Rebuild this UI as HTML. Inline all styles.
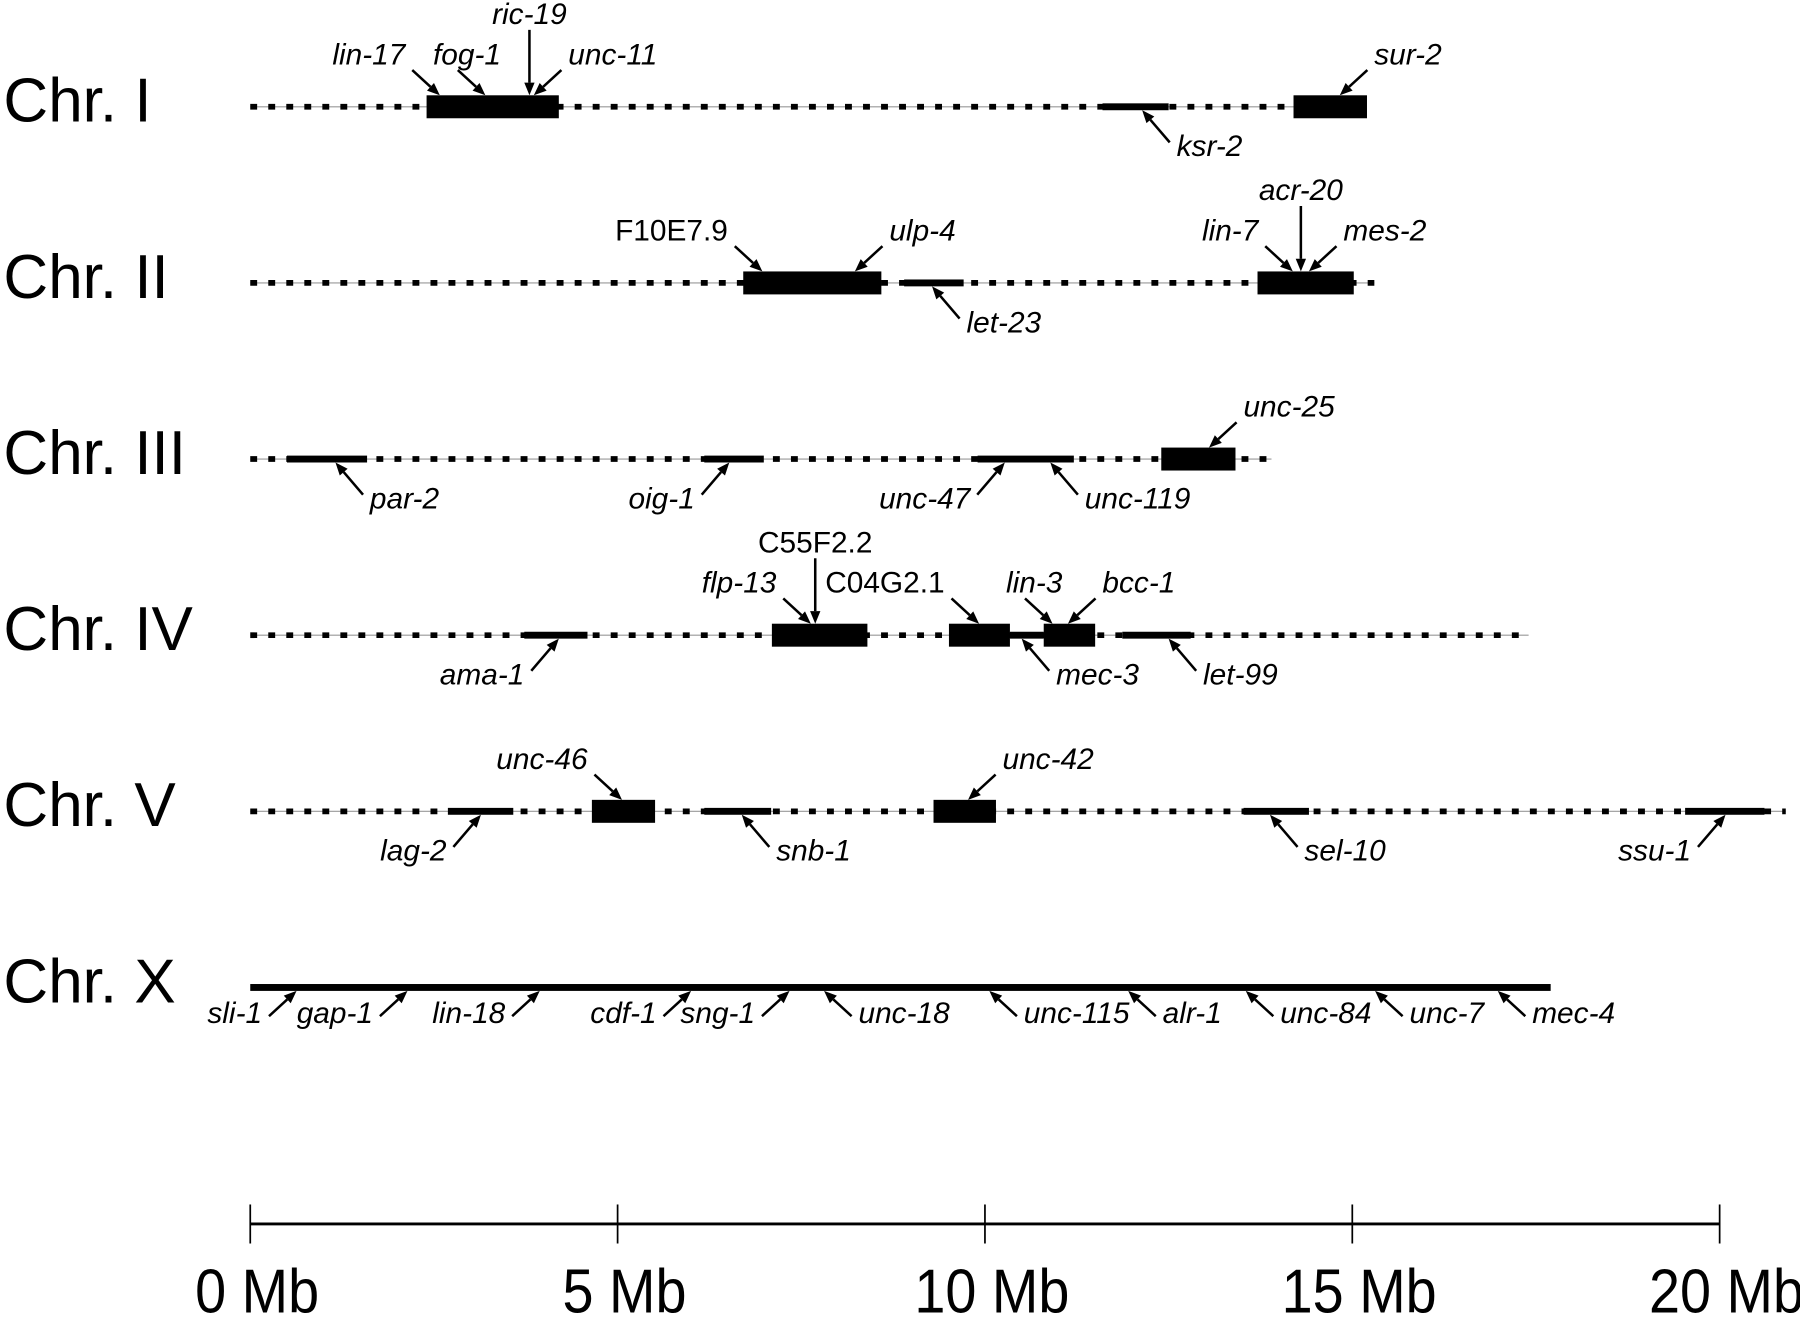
<!DOCTYPE html>
<html><head><meta charset="utf-8"><style>
html,body{margin:0;padding:0;background:#fff}
svg{display:block}
text{font-family:"Liberation Sans",Arial,sans-serif;fill:#000}
</style></head><body>
<svg id="chart" xmlns="http://www.w3.org/2000/svg" width="1800" height="1317" viewBox="0 0 1568 1147" preserveAspectRatio="none"></svg>
<script>
const chrNames = ["Chr. I","Chr. II","Chr. III","Chr. IV","Chr. V","Chr. X"];
const chrLengths = [15.1,15.3,13.9,17.4,20.9,17.7];
const chrSolid = [false,false,false,false,false,true];
const boxes = [
  [[2.4,4.2],[14.2,15.2]],
  [[6.71,8.59],[13.71,15.02]],
  [[12.4,13.41]],
  [[7.1,8.4],[9.51,10.34],[10.8,11.5]],
  [[4.65,5.51],[9.3,10.15]],
  []
];
const thinSegs = [
  [[11.6,12.5]],
  [[8.9,9.71]],
  [[0.5,1.59],[6.18,6.99],[9.9,11.21]],
  [[3.73,4.59],[10.34,10.8],[11.87,12.8]],
  [[2.69,3.58],[6.18,7.09],[13.52,14.41],[19.53,20.61]],
  []
];
const genes = ["lin-17","fog-1","ric-19","unc-11","sur-2","ksr-2",
 "F10E7.9","ulp-4","let-23","acr-20","lin-7","mes-2",
 "par-2","oig-1","unc-47","unc-119","unc-25",
 "flp-13","C55F2.2","C04G2.1","lin-3","bcc-1","ama-1","mec-3","let-99",
 "unc-46","unc-42","lag-2","snb-1","sel-10","ssu-1",
 "sli-1","gap-1","lin-18","cdf-1","sng-1","unc-18","unc-115","alr-1","unc-84","unc-7","mec-4"];
const geneChr = [0,0,0,0,0,0, 1,1,1,1,1,1, 2,2,2,2,2, 3,3,3,3,3,3,3,3, 4,4,4,4,4,4, 5,5,5,5,5,5,5,5,5,5,5];
const geneMb = [2.58,3.2,3.8,3.86,14.83,12.14,
 6.97,8.23,9.28,14.3,14.19,14.41,
 1.16,6.52,10.27,10.89,13.05,
 7.63,7.69,9.92,10.92,11.13,4.2,10.5,12.5,
 5.06,9.77,3.14,6.69,13.88,20.08,
 0.63,2.14,3.94,6.0,7.34,7.81,10.06,11.95,13.55,15.31,16.98];
const geneArrow = ["aR","aR","aV","aL","aL","bL",
 "aR","aL","bL","aV","aR","aL",
 "bL","bR","bR","bL","aL",
 "aR","aV","aR","aR","aL","bR","bL","bL",
 "aR","aL","bR","bL","bL","bR",
 "bR","bR","bR","bR","bR","bL","bL","bL","bL","bL","bL"];
const geneUpright = ["F10E7.9","C55F2.2","C04G2.1"];
const scaleTicks = [0,5,10,15,20];
const scaleLabels = ["0 Mb","5 Mb","10 Mb","15 Mb","20 Mb"];

const NS="http://www.w3.org/2000/svg";
const svg=document.getElementById('chart');
const X0=218, PX=64.0;
const centeredLabels=["fog-1","lin-3"];
const rowY=i=>93+i*153.4;
const x=mb=>X0+mb*PX;
function el(tag,attrs,parent){const e=document.createElementNS(NS,tag);for(const k in attrs)e.setAttribute(k,attrs[k]);(parent||svg).appendChild(e);return e;}

chrNames.forEach((nm,i)=>{
  const y=rowY(i);
  const g=el('g',{});
  
  
  const t=el('text',{x:3,y:y+13,'font-size':54},g);t.textContent=nm;
  
  
  if(chrSolid[i]){
    const l=el('rect',{x:x(0),y:y-3,width:chrLengths[i]*PX,height:6,fill:'#000'},g);
    
    
  } else {
    const b=el('line',{x1:x(0),x2:x(chrLengths[i]),y1:y,y2:y,stroke:'#999','stroke-width':1},g);
    
    
    const d=el('line',{x1:x(0),x2:x(chrLengths[i]),y1:y,y2:y,stroke:'#000','stroke-width':5,'stroke-dasharray':'6 9.7'},g);
    
    
  }
  thinSegs[i].forEach(s=>{
    const r=el('rect',{x:x(s[0]),y:y-3,width:(s[1]-s[0])*PX,height:6,fill:'#000'},g);
    
    
  });
  boxes[i].forEach(s=>{
    const r=el('rect',{x:x(s[0]),y:y-10,width:(s[1]-s[0])*PX,height:20,fill:'#000'},g);
    
    
  });
});

function inBox(c,mb){return boxes[c].some(b=>mb>=b[0]&&mb<=b[1]);}
genes.forEach((gn,k)=>{
  const c=geneChr[k], y=rowY(c), tx=x(geneMb[k]), type=geneArrow[k];
  const box=inBox(c,geneMb[k]);
  const isX=chrSolid[c];
  const bdy=isX?22:28, bly=isX?6:12;
  let ty,sx,sy,lx,ly,anchor;
  if(type==='aV'){ty=y-(box?10:3);sx=tx;sy=ty-57;lx=tx;ly=sy-5;anchor='middle';}
  else if(type==='aR'){ty=y-(box?10:3);sx=tx-24;sy=ty-22;lx=sx-6;ly=sy-5;anchor='end';}
  else if(type==='aL'){ty=y-(box?10:3);sx=tx+24;sy=ty-22;lx=sx+6;ly=sy-5;anchor='start';}
  else if(type==='bL'){ty=y+(box?10:3);sx=tx+24;sy=ty+bdy;lx=sx+6;ly=sy+bly;anchor='start';}
  else {ty=y+(box?10:3);sx=tx-24;sy=ty+bdy;lx=sx-6;ly=sy+bly;anchor='end';}
  if(centeredLabels.includes(gn)){anchor='middle';lx=sx+8;}
  const g=el('g',{});
  
  
  const dx=tx-sx, dy=ty-sy, L=Math.hypot(dx,dy), ux=dx/L, uy=dy/L;
  const hl=11, hw=4.5;
  const bx=tx-ux*hl, by=ty-uy*hl;
  const ln=el('line',{x1:sx,y1:sy,x2:bx,y2:by,stroke:'#000','stroke-width':2.2},g);
  
  
  const hd=el('polygon',{points:`${tx},${ty} ${bx-uy*hw},${by+ux*hw} ${bx+uy*hw},${by-ux*hw}`,fill:'#000'},g);
  
  
  const t=el('text',{x:lx,y:ly,'font-size':26,'text-anchor':anchor,'font-style':geneUpright.includes(gn)?'normal':'italic'},g);
  t.textContent=gn;
  
  
});

const sg=el('g',{});


const sl=el('line',{x1:x(scaleTicks[0]),x2:x(scaleTicks[scaleTicks.length-1]),y1:1066,y2:1066,stroke:'#000','stroke-width':2.5},sg);


scaleTicks.forEach((v,i)=>{
  const tk=el('line',{x1:x(v),x2:x(v),y1:1049,y2:1083,stroke:'#000','stroke-width':1.5},sg);
  
  
  const cx=x(v)+6;
  const t=el('text',{x:0,y:0,'font-size':54,'text-anchor':'middle',transform:`translate(${cx},1143) scale(0.9,1)`},sg);
  t.textContent=scaleLabels[i];
  
  
});
</script>
</body></html>
